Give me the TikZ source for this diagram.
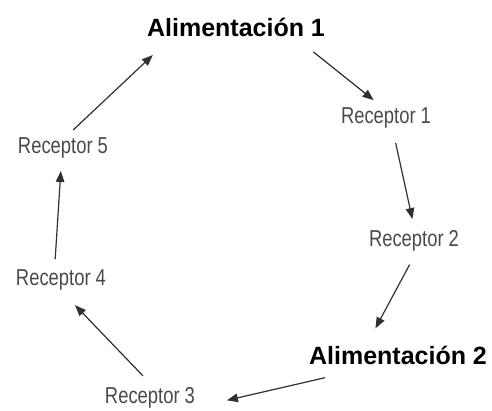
\documentclass[tikz,border=0pt]{standalone}
\usepackage{fontspec}
\setmainfont{Liberation Sans}
\newfontfamily\narrowfont[FakeStretch=0.8]{Liberation Sans}
\usetikzlibrary{arrows.meta}
\definecolor{recgray}{HTML}{4A4A4A}
\definecolor{arrgray}{HTML}{303030}
\begin{document}
\begin{tikzpicture}[x=1pt,y=-1pt,
  supply/.style={font=\fontsize{25}{28}\selectfont\bfseries, text=black, inner sep=2pt},
  receiver/.style={font=\narrowfont\fontsize{23}{25}\selectfont, text=recgray, inner sep=2pt},
  flow/.style={draw=arrgray, line width=1.2pt, -{Triangle[length=11pt,width=8.5pt]}, shorten >=3pt, shorten <=3pt}]
\useasboundingbox (0,0) rectangle (492,411);
\node[supply]   (a1) at (236,27)  {Alimentación 1};
\node[receiver] (r1) at (386,118) {Receptor 1};
\node[receiver] (r2) at (414,241) {Receptor 2};
\node[supply]   (a2) at (398,355) {Alimentación 2};
\node[receiver] (r3) at (150,398) {Receptor 3};
\node[receiver] (r4) at (61,280)  {Receptor 4};
\node[receiver] (r5) at (63,148)  {Receptor 5};
\coordinate (p1) at (311,50);  \coordinate (q1) at (376,102);
\coordinate (p2) at (395,140); \coordinate (q2) at (413,222);
\coordinate (p3) at (411,262); \coordinate (q3) at (374,331);
\coordinate (p4) at (328,377); \coordinate (q4) at (224,401);
\coordinate (p5) at (145,378); \coordinate (q5) at (73,303);
\coordinate (p6) at (55,262);  \coordinate (q6) at (61,168);
\coordinate (p7) at (71,132);  \coordinate (q7) at (155,53);
\draw[flow] (p1) -- (q1);
\draw[flow] (p2) -- (q2);
\draw[flow] (p3) -- (q3);
\draw[flow] (p4) -- (q4);
\draw[flow] (p5) -- (q5);
\draw[flow] (p6) -- (q6);
\draw[flow] (p7) -- (q7);
\end{tikzpicture}
\end{document}
